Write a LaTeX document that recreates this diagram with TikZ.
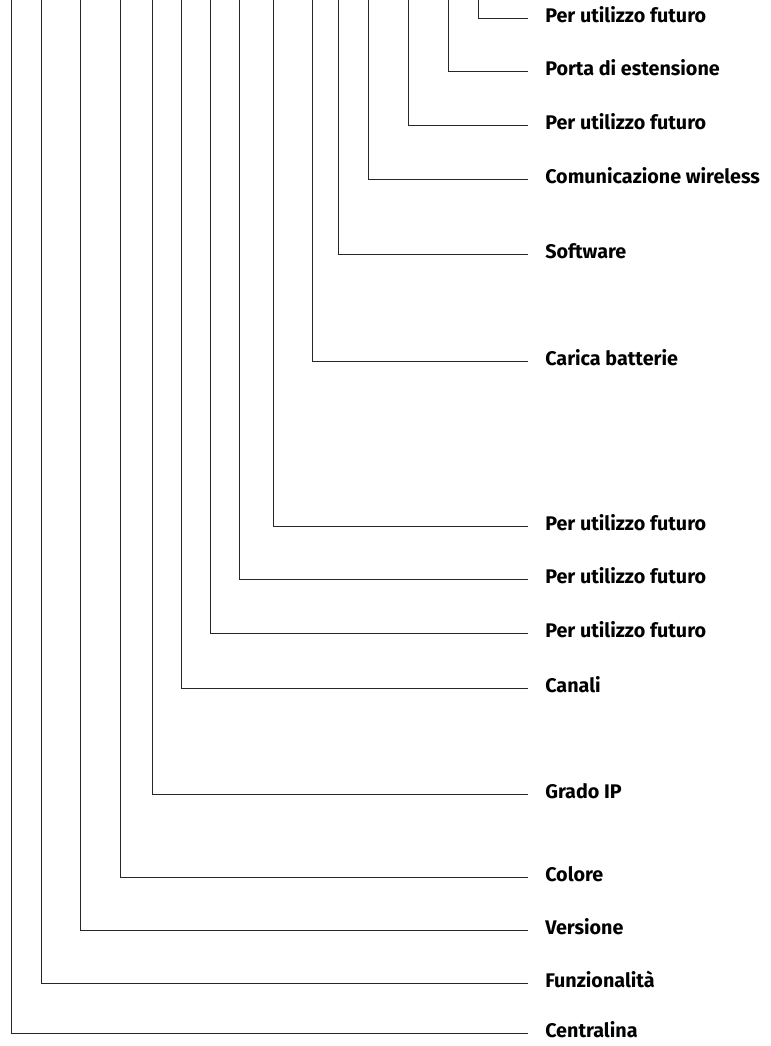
\documentclass[tikz,border=0pt]{standalone}
\usepackage{fontspec}
\setmainfont{Fira Sans}
\begin{document}
\begin{tikzpicture}[x=0.75pt,y=-0.75pt,
  lbl/.style={anchor=west, inner xsep=12.75pt, inner ysep=0pt,
    font=\bfseries\fontsize{14.8}{17}\selectfont, text height=0.69em, text depth=0pt},
  conn/.style={draw=black!85, line width=0.75pt}]
\useasboundingbox (0,0) rectangle (771,1046);
\foreach \x/\y/\t/\n in {
  478/18/Per utilizzo futuro/a,
  448/71/Porta di estensione/b,
  408/125/Per utilizzo futuro/c,
  368/179/Comunicazione wireless/d,
  338/254/Software/e,
  312/361/Carica batterie/f,
  273/526/Per utilizzo futuro/g,
  239/579/Per utilizzo futuro/h,
  210/633/Per utilizzo futuro/i,
  181/688/Canali/j,
  152/794/Grado IP/k,
  120/877/Colore/l,
  80/930/Versione/m,
  41/983/Funzionalità/n,
  11/1033/Centralina/o}{
  \node[lbl] (l\n) at (528,\y) {\t};
  \coordinate (t\n) at (\x,0);
  \draw[conn] (t\n) |- (l\n.west);
}
\end{tikzpicture}
\end{document}
